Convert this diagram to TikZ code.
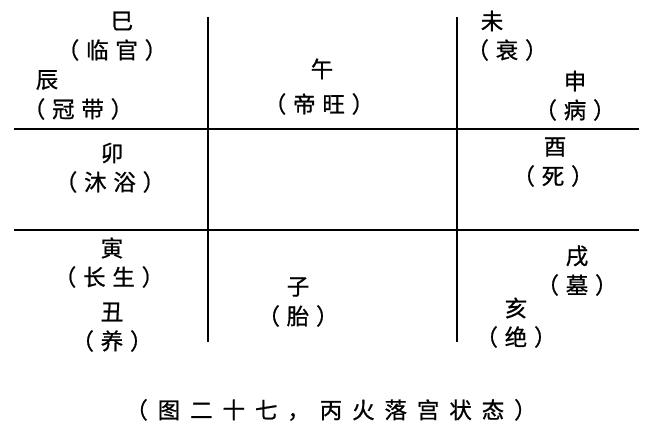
\documentclass[tikz,border=0pt]{standalone}
\usepackage{fontspec}
\newfontfamily\zhfont[LetterSpace=30, FakeBold=0.8]{Noto Sans CJK SC}
\newfontfamily\capfont[LetterSpace=44, FakeBold=0.8]{Noto Sans CJK SC}
\usetikzlibrary{positioning}
\tikzstyle{zhi}=[font=\zhfont\fontsize{22.5}{26}\selectfont, inner sep=0pt]
\tikzstyle{grid}=[line width=2.4pt]

\begin{document}
\begin{tikzpicture}[x=1pt, y=-1pt, node distance=29pt]
                    \useasboundingbox (0,0) rectangle (653,433);
                    % grid lines
                    \draw [grid] (14,129) -- (639,129);
                    \draw [grid] (14,230) -- (639,230);
                    \draw [grid] (208,17) -- (208,342);
                    \draw [grid] (457,17) -- (457,342);
                    % branches
                    \node [zhi] (si) at (122,21) {巳};
                    \node [zhi, below of=si, xshift=-10pt] (siS) {（临官）};
                    \node [zhi] (chen) at (47,80) {辰};
                    \node [zhi, below of=chen, xshift=31pt] (chenS) {（冠带）};
                    \node [zhi] (wu) at (322,69) {午};
                    \node [zhi, below of=wu, node distance=35pt, xshift=-3pt] (wuS) {（帝旺）};
                    \node [zhi] (wei) at (492,21) {未};
                    \node [zhi, below of=wei, xshift=15pt] (weiS) {（衰）};
                    \node [zhi] (shen) at (575,81) {申};
                    \node [zhi, below of=shen] (shenS) {（病）};
                    \node [zhi] (mao) at (112,153) {卯};
                    \node [zhi, below of=mao, xshift=-2pt] (maoS) {（沐浴）};
                    \node [zhi] (you) at (555,147) {酉};
                    \node [zhi, below of=you, xshift=-2pt] (youS) {（死）};
                    \node [zhi] (yin) at (112,248) {寅};
                    \node [zhi, below of=yin, xshift=-3pt] (yinS) {（长生）};
                    \node [zhi] (chou) at (112,312) {丑};
                    \node [zhi, below of=chou] (chouS) {（养）};
                    \node [zhi] (xu) at (577,256) {戌};
                    \node [zhi, below of=xu] (xuS) {（墓）};
                    \node [zhi] (hai) at (516,308) {亥};
                    \node [zhi, below of=hai] (haiS) {（绝）};
                    \node [zhi] (zi) at (298,287) {子};
                    \node [zhi, below of=zi] (ziS) {（胎）};
                    % caption
                    \node [zhi, font=\capfont\fontsize{22.5}{26}\selectfont] (cap) at (331,410) {（图二十七，丙火落宫状态）};
                \end{tikzpicture}
\end{document}
